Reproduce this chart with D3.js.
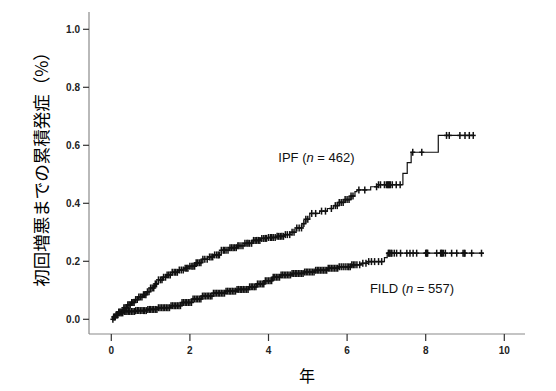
<!DOCTYPE html>
<html>
<head>
<meta charset="utf-8">
<script src="https://cdn.jsdelivr.net/npm/d3@7"></script>
<style>
  body { margin: 0; background: #fff; }
  svg { display: block; }
</style>
</head>
<body>
<svg id="chart" width="556" height="391"></svg>
<script>
// ticks
var xTicks = [0, 2, 4, 6, 8, 10];
var yTicks = [0.0, 0.2, 0.4, 0.6, 0.8, 1.0];

// IPF: [time, cumulative incidence] after each step
var ipfSteps = [
  [0, 0], [0.05, 0.008], [0.1, 0.015], [0.18, 0.025], [0.3, 0.04], [0.4, 0.05],
  [0.5, 0.058], [0.6, 0.068], [0.7, 0.077], [0.8, 0.085], [0.9, 0.095], [1.0, 0.108],
  [1.1, 0.122], [1.2, 0.136], [1.3, 0.145], [1.4, 0.153], [1.55, 0.162], [1.7, 0.17],
  [1.85, 0.176], [2.0, 0.183], [2.15, 0.195], [2.3, 0.207], [2.45, 0.215], [2.6, 0.222],
  [2.8, 0.238], [3.0, 0.247], [3.2, 0.254], [3.4, 0.262], [3.6, 0.272], [3.8, 0.279],
  [4.0, 0.282], [4.2, 0.286], [4.4, 0.292], [4.55, 0.3], [4.7, 0.315], [4.85, 0.33],
  [4.95, 0.345], [5.05, 0.365], [5.3, 0.373], [5.5, 0.382], [5.65, 0.392], [5.8, 0.403],
  [5.95, 0.413], [6.1, 0.425], [6.2, 0.44], [6.25, 0.446], [6.6, 0.457], [6.8, 0.464],
  [7.42, 0.503], [7.53, 0.54], [7.63, 0.576], [8.32, 0.634]
];
var ipfEnd = 9.21;
var ipfCensor = [
  0.04, 0.08, 0.12, 0.15, 0.19, 0.22, 0.25, 0.28, 0.32, 0.35, 0.39, 0.42, 0.45, 0.48,
  0.52, 0.55, 0.58, 0.62, 0.66, 0.7, 0.74, 0.78, 0.82, 0.85, 0.88, 0.92, 0.96, 1.0,
  1.04, 1.08, 1.12, 1.15, 1.2, 1.25, 1.29, 1.33, 1.38, 1.42, 1.46, 1.5, 1.55, 1.6,
  1.64, 1.68, 1.73, 1.78, 1.83, 1.88, 1.92, 1.95, 2.0, 2.05, 2.08, 2.12, 2.16, 2.2,
  2.24, 2.28, 2.33, 2.38, 2.44, 2.5, 2.54, 2.58, 2.63, 2.68, 2.72, 2.75, 2.8, 2.85,
  2.88, 2.92, 2.97, 3.02, 3.06, 3.1, 3.14, 3.18, 3.22, 3.25, 3.3, 3.35, 3.4, 3.45,
  3.48, 3.52, 3.57, 3.62, 3.66, 3.7, 3.74, 3.78, 3.83, 3.88, 3.92, 3.95, 4.0, 4.05,
  4.08, 4.12, 4.17, 4.22, 4.26, 4.3, 4.34, 4.38, 4.43, 4.48, 4.54, 4.6, 4.65, 4.72,
  4.78, 4.84, 4.9, 4.95, 5.0, 5.1, 5.2, 5.35, 5.45, 5.6, 5.7, 5.75, 5.8, 5.85, 5.9,
  5.95, 6.0, 6.05, 6.1, 6.15, 6.3, 6.45, 6.75, 6.8, 6.85, 6.95, 7.0, 7.03, 7.05,
  7.08, 7.1, 7.15, 7.25, 7.35, 7.67, 7.9, 8.53, 8.6, 8.87, 9.0, 9.11, 9.21
];

// FILD
var fildSteps = [
  [0, 0], [0.05, 0.008], [0.12, 0.016], [0.2, 0.022], [0.3, 0.027], [0.6, 0.03],
  [0.9, 0.034], [1.2, 0.04], [1.5, 0.047], [1.8, 0.058], [2.05, 0.07], [2.3, 0.08],
  [2.6, 0.09], [2.9, 0.097], [3.2, 0.103], [3.5, 0.112], [3.7, 0.122], [3.9, 0.133],
  [4.1, 0.145], [4.3, 0.153], [4.6, 0.158], [4.9, 0.163], [5.2, 0.169], [5.5, 0.176],
  [5.8, 0.181], [6.1, 0.188], [6.35, 0.193], [6.5, 0.199], [6.95, 0.213], [7.02, 0.228]
];
var fildEnd = 9.47;
var fildCensor = [
  0.06, 0.1, 0.14, 0.17, 0.21, 0.25, 0.29, 0.33, 0.37, 0.4, 0.44, 0.47, 0.51, 0.55,
  0.59, 0.62, 0.66, 0.7, 0.74, 0.78, 0.82, 0.85, 0.89, 0.93, 0.97, 1.0, 1.04, 1.08,
  1.12, 1.16, 1.2, 1.24, 1.28, 1.32, 1.36, 1.4, 1.44, 1.48, 1.52, 1.56, 1.6, 1.64,
  1.68, 1.72, 1.76, 1.8, 1.84, 1.88, 1.92, 1.96, 2.0, 2.04, 2.08, 2.12, 2.16, 2.2,
  2.24, 2.28, 2.32, 2.36, 2.4, 2.44, 2.48, 2.52, 2.56, 2.6, 2.64, 2.68, 2.72, 2.76,
  2.8, 2.84, 2.88, 2.92, 2.96, 3.0, 3.04, 3.08, 3.12, 3.16, 3.2, 3.24, 3.28, 3.32,
  3.36, 3.4, 3.44, 3.48, 3.52, 3.56, 3.6, 3.64, 3.68, 3.72, 3.76, 3.8, 3.84, 3.88,
  3.92, 3.96, 4.0, 4.04, 4.08, 4.12, 4.16, 4.2, 4.24, 4.28, 4.32, 4.36, 4.4, 4.44,
  4.48, 4.52, 4.56, 4.6, 4.64, 4.68, 4.72, 4.76, 4.8, 4.84, 4.88, 4.92, 4.96, 5.0,
  5.04, 5.08, 5.12, 5.16, 5.2, 5.24, 5.28, 5.32, 5.36, 5.4, 5.44, 5.48, 5.52, 5.56,
  5.6, 5.64, 5.68, 5.72, 5.76, 5.8, 5.85, 5.9, 5.95, 6.0, 6.04, 6.08, 6.12, 6.16,
  6.2, 6.25, 6.32, 6.4, 6.48, 6.55, 6.62, 6.7, 6.8, 6.88,
  7.05, 7.07, 7.09, 7.12, 7.14, 7.2, 7.26, 7.36, 7.52, 7.6, 7.68, 7.77, 8.0, 8.02,
  8.03, 8.05, 8.28, 8.38, 8.4, 8.42, 8.45, 8.5, 8.66, 8.79, 8.95, 8.98, 9.0, 9.17, 9.42
];

var svg = d3.select("#chart");

var x = d3.scaleLinear().domain([0, 10]).range([111.3, 504.3]);
var y = d3.scaleLinear().domain([0, 1]).range([319.3, 29.3]);

var axisLeftX = 89, axisBottomY = 334;

// axis lines
svg.append("line")
    .attr("x1", axisLeftX).attr("x2", axisLeftX)
    .attr("y1", 12).attr("y2", axisBottomY)
    .attr("stroke", "#8a8a8a").attr("stroke-width", 1.2);
svg.append("line")
    .attr("x1", axisLeftX).attr("x2", 525)
    .attr("y1", axisBottomY).attr("y2", axisBottomY)
    .attr("stroke", "#8a8a8a").attr("stroke-width", 1.2);

// y ticks
var yAxis = svg.append("g");
yAxis.selectAll("line").data(yTicks).enter().append("line")
    .attr("x1", axisLeftX - 6).attr("x2", axisLeftX)
    .attr("y1", function(d){ return y(d); })
    .attr("y2", function(d){ return y(d); })
    .attr("stroke", "#333").attr("stroke-width", 1.2);
yAxis.selectAll("text").data(yTicks).enter().append("text")
    .attr("x", 80)
    .attr("y", function(d){ return y(d) + 3.5; })
    .attr("text-anchor", "end")
    .style("font-family", "Liberation Sans, Arial, sans-serif")
    .style("font-size", "10px")
    .style("font-weight", "bold")
    .style("fill", "#222")
    .text(function(d){ return d.toFixed(1); });

// x ticks
var xAxis = svg.append("g");
xAxis.selectAll("line").data(xTicks).enter().append("line")
    .attr("x1", function(d){ return x(d); })
    .attr("x2", function(d){ return x(d); })
    .attr("y1", axisBottomY).attr("y2", axisBottomY + 7)
    .attr("stroke", "#333").attr("stroke-width", 1.2);
xAxis.selectAll("text").data(xTicks).enter().append("text")
    .attr("x", function(d){ return x(d); })
    .attr("y", 354)
    .attr("text-anchor", "middle")
    .style("font-family", "Liberation Sans, Arial, sans-serif")
    .style("font-size", "10px")
    .style("font-weight", "bold")
    .style("fill", "#222")
    .text(function(d){ return d; });

// axis titles
svg.append("text")
    .attr("x", 307).attr("y", 382)
    .attr("text-anchor", "middle")
    .style("font-family", "Noto Sans CJK JP, sans-serif")
    .style("font-size", "16px")
    .text("年");

svg.append("text")
    .attr("transform", "translate(48,165) rotate(-90)")
    .attr("text-anchor", "middle")
    .style("font-family", "Noto Sans CJK JP, sans-serif")
    .style("font-size", "17.5px")
    .text("初回増悪までの累積発症（%）");

// step value at time t
function valueAt(steps, t) {
    let v = 0;
    steps.forEach(function(s){ if (s[0] <= t) v = s[1]; });
    return v;
}

function drawCurve(steps, end, censor) {
    let pts = steps.concat([[end, steps[steps.length - 1][1]]]);
    let line = d3.line()
        .x(function(d){ return x(d[0]); })
        .y(function(d){ return y(d[1]); })
        .curve(d3.curveStepAfter);
    svg.append("path")
        .attr("d", line(pts))
        .attr("fill", "none")
        .attr("stroke", "#111")
        .attr("stroke-width", 1.2);

    let g = svg.append("g").attr("stroke", "#111").attr("stroke-width", 1.5);
    censor.forEach(function(t){
        let cx = x(t), cy = y(valueAt(steps, t));
        g.append("line")
            .attr("x1", cx).attr("x2", cx)
            .attr("y1", cy - 3.5).attr("y2", cy + 3.5);
        g.append("line")
            .attr("x1", cx - 2.5).attr("x2", cx + 2.5)
            .attr("y1", cy).attr("y2", cy);
    });
}

drawCurve(ipfSteps, ipfEnd, ipfCensor);
drawCurve(fildSteps, fildEnd, fildCensor);

// group labels
function groupLabel(t, v, name, n) {
    let txt = svg.append("text")
        .attr("x", x(t)).attr("y", y(v))
        .style("font-family", "Liberation Sans, Arial, sans-serif")
        .style("font-size", "13px")
        .style("fill", "#111");
    txt.append("tspan").text(name + " (");
    txt.append("tspan").style("font-style", "italic").text("n");
    txt.append("tspan").text(" = " + n + ")");
}
groupLabel(4.25, 0.542, "IPF", 462);
groupLabel(6.58, 0.09, "FILD", 557);
</script>
</body>
</html>
